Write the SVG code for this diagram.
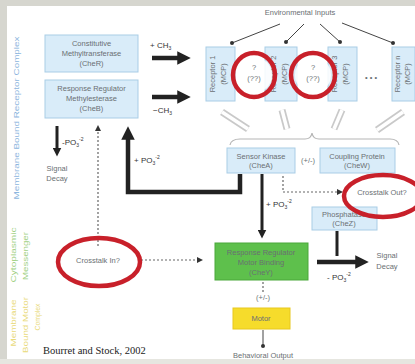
<svg xmlns="http://www.w3.org/2000/svg" width="415" height="364" viewBox="0 0 415 364">
<style>
.bx{fill:#d9ecf9;stroke:#a9cde6;stroke-width:1}
.t{font-family:"Liberation Sans",Arial,sans-serif;font-size:7.5px;fill:#6a6f73;text-anchor:middle}
.lb{font-family:"Liberation Sans",Arial,sans-serif;font-size:8px;fill:#333;text-anchor:start}
.thick{stroke:#222;stroke-width:4.5;fill:none}
.med{stroke:#222;stroke-width:3;fill:none}
.dot{stroke:#666;stroke-width:1.2;stroke-dasharray:2 2;fill:none}
.red{fill:none;stroke:#c8202a;stroke-width:4.5}
.hol{stroke:#c9c9c9;stroke-width:7;fill:none}
.holi{stroke:#fff;stroke-width:3.5;fill:none}
.env{stroke:#444;stroke-width:1;fill:none}
.side{font-family:"Liberation Sans",Arial,sans-serif;font-size:8px;text-anchor:middle}
</style>
<defs>
<marker id="ah" viewBox="0 0 10 10" refX="5" refY="5" markerWidth="3" markerHeight="3" orient="auto"><path d="M0,0L10,5L0,10z" fill="#222"/></marker>
<marker id="ahs" viewBox="0 0 10 10" refX="5" refY="5" markerWidth="5" markerHeight="5" orient="auto"><path d="M0,0L10,5L0,10z" fill="#333"/></marker>
<marker id="dt" viewBox="0 0 10 10" refX="5" refY="5" markerWidth="4" markerHeight="4"><circle cx="5" cy="5" r="5" fill="#333"/></marker>
</defs>
<rect width="415" height="364" fill="#ffffff"/>
<rect x="0" y="0" width="415" height="6" fill="#d6d6cf"/>
<rect x="0" y="0" width="7" height="364" fill="#d6d6cf"/>
<rect x="0" y="359" width="415" height="5" fill="#e6e6e0"/>

<g id="side-labels">
<text class="side" transform="translate(19,118) rotate(-90)" fill="#8db6de" textLength="163" lengthAdjust="spacingAndGlyphs">Membrane Bound Receptor Complex</text>
<text class="side" transform="translate(16,255) rotate(-90)" fill="#a2d184" textLength="55" lengthAdjust="spacingAndGlyphs">Cytoplasmic</text>
<text class="side" transform="translate(28,256) rotate(-90)" fill="#a2d184" textLength="48" lengthAdjust="spacingAndGlyphs">Messenger</text>
<text class="side" transform="translate(16,323) rotate(-90)" fill="#e9da7a" textLength="47" lengthAdjust="spacingAndGlyphs">Membrane</text>
<text class="side" transform="translate(28,325) rotate(-90)" fill="#e9da7a" textLength="56" lengthAdjust="spacingAndGlyphs">Bound Motor</text>
<text class="side" transform="translate(40,317) rotate(-90)" fill="#e9da7a" textLength="27" lengthAdjust="spacingAndGlyphs">Complex</text>
</g>

<g id="connectors">
<text class="t" x="300" y="15" font-size="7">Environmental Inputs</text>
<line class="env" x1="280" y1="24" x2="232" y2="43" marker-end="url(#dt)"/>
<line class="env" x1="304" y1="24" x2="286" y2="42" marker-end="url(#dt)"/>
<line class="env" x1="320" y1="24" x2="340" y2="42" marker-end="url(#dt)"/>
<line class="env" x1="342" y1="23" x2="393" y2="43" marker-end="url(#dt)"/>

<line class="thick" x1="152" y1="58" x2="184" y2="58" marker-end="url(#ah)"/>
<line class="thick" x1="152" y1="97" x2="184" y2="97" marker-end="url(#ah)"/>
<text class="lb" x="150" y="48">+ CH<tspan font-size="5" dy="2">3</tspan></text>
<text class="lb" x="153" y="113">−CH<tspan font-size="5" dy="2">3</tspan></text>

<line class="med" x1="57" y1="126" x2="57" y2="152" marker-end="url(#ah)"/>
<text class="lb" x="62" y="145">-PO<tspan font-size="5" dy="2">3</tspan><tspan font-size="5" dy="-6">-2</tspan></text>
<text class="t" x="57" y="171">Signal</text>
<text class="t" x="57" y="181">Decay</text>

<path class="dot" d="M98,246 V128" marker-end="url(#ahs)"/>
<path class="dot" d="M141,260 H200" marker-end="url(#ahs)"/>

<path class="thick" d="M240,174 V192 H128 V133" marker-end="url(#ah)"/>
<text class="lb" x="134" y="163">+ PO<tspan font-size="5" dy="2">3</tspan><tspan font-size="5" dy="-6">-2</tspan></text>

<line class="med" x1="262" y1="174" x2="262" y2="234" marker-end="url(#ah)"/>
<text class="lb" x="266" y="207">+ PO<tspan font-size="5" dy="2">3</tspan><tspan font-size="5" dy="-6">-2</tspan></text>

<path class="dot" d="M283,176 V192 H340" marker-end="url(#ahs)"/>

<line class="med" x1="337" y1="231" x2="337" y2="256"/>
<line class="thick" x1="317" y1="262" x2="362" y2="262" marker-end="url(#ah)"/>
<text class="lb" x="327" y="280">- PO<tspan font-size="5" dy="2">3</tspan><tspan font-size="5" dy="-6">-2</tspan></text>
<text class="t" x="387" y="258">Signal</text>
<text class="t" x="387" y="269">Decay</text>

<line class="dot" x1="263" y1="282" x2="263" y2="292"/>
<text class="t" x="263" y="300" font-size="6">(+/-)</text>
<line class="env" x1="263" y1="330" x2="263" y2="346" marker-end="url(#dt)"/>
<text class="t" x="263" y="358">Behavioral Output</text>

<line class="hol" x1="222" y1="112" x2="248" y2="129"/><line class="holi" x1="222" y1="112" x2="248" y2="129"/>
<line class="hol" x1="282" y1="110" x2="287" y2="129"/><line class="holi" x1="282" y1="110" x2="287" y2="129"/>
<line class="hol" x1="342" y1="110" x2="334" y2="129"/><line class="holi" x1="342" y1="110" x2="334" y2="129"/>
<line class="hol" x1="403" y1="112" x2="377" y2="130"/><line class="holi" x1="403" y1="112" x2="377" y2="130"/>
<path d="M230,145 Q231,139 240,139 H305 Q311,139 312,133 Q313,139 319,139 H390 Q398,139 399,145" stroke="#b5b5b5" stroke-width="1.2" fill="none"/>
</g>

<g id="cheR"><rect class="bx" x="45" y="35" width="93" height="37"/>
<text class="t" x="91.5" y="46">Constitutive</text><text class="t" x="91.5" y="56">Methyltransferase</text><text class="t" x="91.5" y="66">(CheR)</text></g>
<g id="cheB"><rect class="bx" x="45" y="80" width="93" height="38"/>
<text class="t" x="91.5" y="91">Response Regulator</text><text class="t" x="91.5" y="101">Methylesterase</text><text class="t" x="91.5" y="111">(CheB)</text></g>

<g id="receptor1"><rect class="bx" x="206" y="47" width="29" height="54"/>
<text class="t" font-size="6.5" transform="translate(215,74) rotate(-90)">Receptor 1</text><text class="t" font-size="6.5" transform="translate(226,74) rotate(-90)">(MCP)</text></g>
<g id="receptor2"><rect class="bx" x="265" y="47" width="32" height="54"/>
<text class="t" font-size="6.5" transform="translate(276,74) rotate(-90)">Receptor 2</text><text class="t" font-size="6.5" transform="translate(287,74) rotate(-90)">(MCP)</text></g>
<g id="receptor3"><rect class="bx" x="328" y="47" width="29" height="54"/>
<text class="t" font-size="6.5" transform="translate(337,74) rotate(-90)">Receptor 3</text><text class="t" font-size="6.5" transform="translate(348,74) rotate(-90)">(MCP)</text></g>
<g id="dots"><text class="t" x="371" y="80" font-size="9">• • •</text></g>
<g id="receptorN"><rect class="bx" x="392" y="47" width="23" height="54"/>
<text class="t" font-size="6.5" transform="translate(400,74) rotate(-90)">Receptor n</text><text class="t" font-size="6.5" transform="translate(410,74) rotate(-90)">(MCP)</text></g>

<g id="unknown1"><circle cx="254" cy="75" r="18" fill="#fff" fill-opacity="0.85"/><text class="t" x="254" y="70" font-size="6">?</text><text class="t" x="254" y="81" font-size="6">(??)</text><ellipse class="red" cx="254" cy="75" rx="21" ry="22"/></g>
<g id="unknown2"><circle cx="313" cy="75" r="18" fill="#fff" fill-opacity="0.85"/><text class="t" x="313" y="70" font-size="6">?</text><text class="t" x="313" y="81" font-size="6">(??)</text><ellipse class="red" cx="313" cy="75" rx="22" ry="22"/></g>

<g id="cheA"><rect class="bx" x="227" y="148" width="68" height="25"/>
<text class="t" x="261" y="159">Sensor Kinase</text><text class="t" x="261" y="168">(CheA)</text></g>
<g id="pm"><text class="t" x="308" y="163" font-size="6">(+/-)</text></g>
<g id="cheW"><rect class="bx" x="320" y="148" width="75" height="25"/>
<text class="t" x="357" y="159">Coupling Protein</text><text class="t" x="357" y="168">(CheW)</text></g>
<g id="cheZ"><rect class="bx" x="312" y="207" width="65" height="23"/>
<text class="t" x="344" y="217">Phosphatase</text><text class="t" x="344" y="226">(CheZ)</text></g>
<g id="crosstalkOut"><text class="t" x="382" y="195">Crosstalk Out?</text><ellipse class="red" cx="383" cy="196" rx="39" ry="21" stroke-width="3.5"/></g>

<g id="cheY"><rect x="215" y="243" width="93" height="37" fill="#5ec04c" stroke="#4aa83a"/>
<text class="t" x="261" y="255" fill="#2e6e25">Response Regulator</text><text class="t" x="261" y="265" fill="#2e6e25">Motor Binding</text><text class="t" x="261" y="275" fill="#2e6e25">(CheY)</text></g>
<g id="crosstalkIn"><text class="t" x="98" y="263">Crosstalk In?</text><ellipse class="red" cx="99" cy="262" rx="41" ry="24" stroke-width="3.5"/></g>
<g id="motor"><rect x="233" y="308" width="57" height="21" fill="#f6dc2b" stroke="#e8c81e"/>
<text class="t" x="261" y="321" fill="#8a7a20">Motor</text></g>

<g id="citation"><text x="43" y="354" font-family="Liberation Serif, Times New Roman, serif" font-size="10.5px" fill="#222">Bourret and Stock, 2002</text></g>
</svg>
